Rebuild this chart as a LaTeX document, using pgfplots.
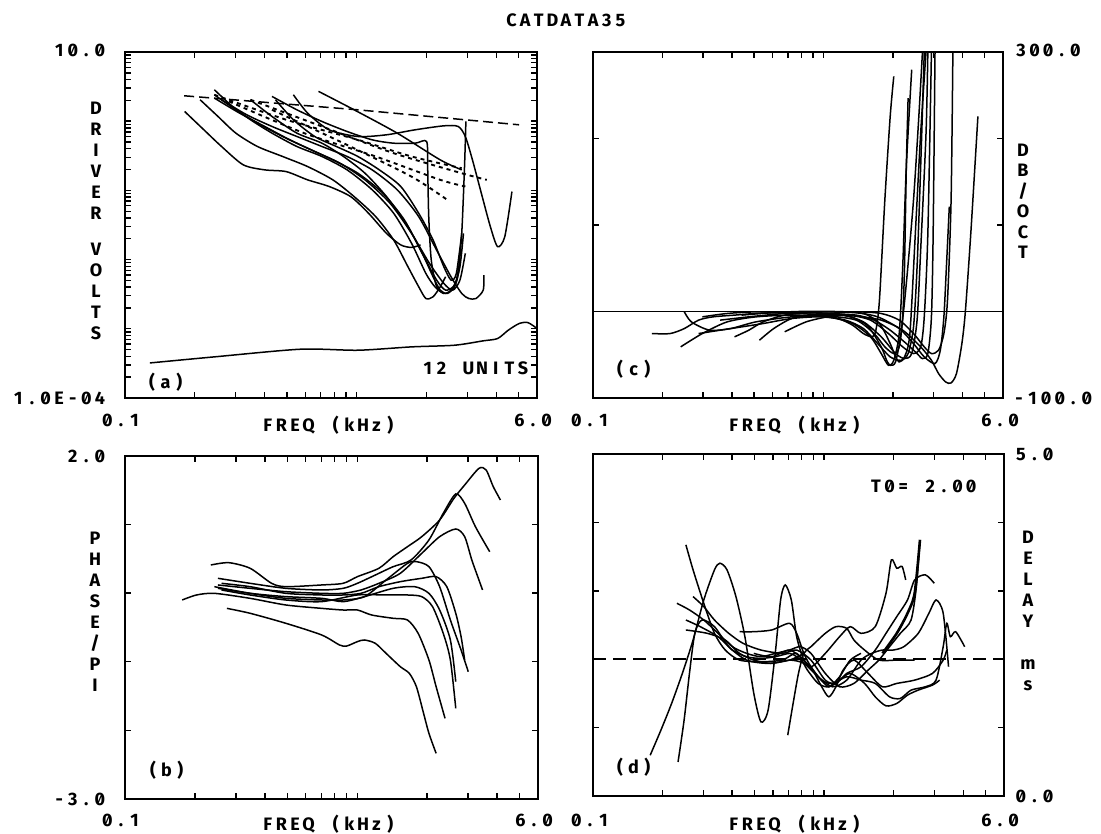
\documentclass[border=0pt]{standalone}
\usepackage{fontspec}
\setmainfont{Fira Sans}[Numbers=SlashedZero]
\usepackage{pgfplots}
\pgfplotsset{compat=1.18}
\newlength\cw \setlength\cw{13.6bp}
\makeatletter
\def\pl#1{\pl@#1\relax}
\def\pl@#1{\ifx#1\relax\else\makebox[\cw]{#1}\expandafter\pl@\fi}
\makeatother
\newcommand\fsz{\fontsize{18bp}{21bp}\selectfont\bfseries}
\pgfplotsset{
  myframe/.style={scale only axis, xmin=0.1, xmax=6,
    axis line style={line width=1.8bp},
    tick style={line width=1.4bp, black},
    major tick length=6bp, minor tick length=6bp, tick align=inside,
    xtick={0.1,1}, minor xtick={0.2,0.3,0.4,0.5,0.6,0.7,0.8,0.9,2,3,4,5},
    xticklabels={,,}, yticklabels={,,}},
  mycurve/.style={line width=1.5bp, black, smooth, tension=0.45},
}
\begin{document}
\begin{tikzpicture}
\path[use as bounding box] (0,0) rectangle (1101bp,834bp);
% ---------------- panel (a)
\begin{axis}[xmode=log, ymode=log, myframe, at={(125bp,436bp)}, anchor=south west, width=412bp, height=346bp,
  ymin=1e-4, ymax=10, ytick={1e-4,1e-3,0.01,0.1,1,10},
  minor ytick={2e-4,3e-4,4e-4,5e-4,6e-4,7e-4,8e-4,9e-4,2e-3,3e-3,4e-3,5e-3,6e-3,7e-3,8e-3,9e-3,0.02,0.03,0.04,0.05,0.06,0.07,0.08,0.09,0.2,0.3,0.4,0.5,0.6,0.7,0.8,0.9,2,3,4,5,6,7,8,9}]
\addplot[mycurve] coordinates {(0.128,0.000321) (0.243,0.000393) (0.572,0.000507) (1.012,0.000490) (1.725,0.000548) (2.645,0.000579) (3.516,0.000670) (4.055,0.000723) (4.51,0.000955) (5.02,0.00119) (5.48,0.00123) (6.0,0.00101)};
\addplot[mycurve] coordinates {(0.181,1.38) (0.219,0.751) (0.261,0.431) (0.324,0.234) (0.401,0.198) (0.496,0.187) (0.614,0.142) (0.760,0.114) (0.942,0.0813) (1.125,0.0467) (1.345,0.0239) (1.549,0.0163) (1.725,0.0150) (1.886,0.0163)};
\addplot[mycurve] coordinates {(0.211,2.04) (0.252,1.17) (0.301,0.672) (0.373,0.431) (0.479,0.309) (0.614,0.221) (0.789,0.142) (0.975,0.0813) (1.208,0.0418) (1.444,0.0192) (1.664,0.00789) (1.852,0.00405) (1.989,0.00274) (2.136,0.00290) (2.294,0.00405) (2.419,0.00565)};
\addplot[mycurve] coordinates {(0.243,2.85) (0.291,1.63) (0.348,1.05) (0.431,0.672) (0.552,0.431) (0.708,0.309) (0.909,0.198) (1.166,0.102) (1.444,0.0467) (1.725,0.0172) (1.989,0.00631) (2.175,0.00405) (2.377,0.00324) (2.553,0.00362) (2.692,0.00506) (2.790,0.00984)};
\addplot[mycurve] coordinates {(0.243,2.41) (0.301,1.46) (0.373,0.938) (0.479,0.601) (0.614,0.407) (0.789,0.276) (1.012,0.177) (1.297,0.0910) (1.606,0.0374) (1.919,0.0123) (2.213,0.00506) (2.419,0.00362) (2.645,0.00428) (2.790,0.00789) (2.890,0.0239)};
\addplot[mycurve] coordinates {(0.243,2.16) (0.312,1.31) (0.401,0.839) (0.514,0.538) (0.659,0.365) (0.847,0.247) (1.086,0.142) (1.393,0.0652) (1.725,0.0239) (2.061,0.00881) (2.377,0.00453) (2.598,0.00362) (2.790,0.00506) (2.943,0.0123)};
\addplot[mycurve] coordinates {(0.261,2.04) (0.335,1.24) (0.431,0.839) (0.552,0.601) (0.708,0.431) (0.909,0.309) (1.166,0.198) (1.496,0.102) (1.852,0.0418) (2.213,0.0137) (2.553,0.00565) (2.840,0.00324) (3.048,0.00274) (3.273,0.00274) (3.516,0.00362) (3.54,0.00597)};
\addplot[mycurve] coordinates {(0.446,2.04) (0.533,1.05) (0.659,0.601) (0.817,0.431) (1.012,0.309) (1.252,0.198) (1.549,0.114) (1.852,0.0467) (2.136,0.0192) (2.377,0.00789) (2.553,0.00506) (2.692,0.00631) (2.840,0.0239)};
\addplot[mycurve] coordinates {(0.533,2.41) (0.614,1.31) (0.760,0.751) (1.012,0.601) (1.345,0.636) (1.787,0.751) (2.377,0.857) (2.741,0.839) (2.943,0.601) (3.159,0.276) (3.451,0.0910) (3.775,0.0299) (4.055,0.0154) (4.355,0.0214) (4.677,0.0961)};
\addplot[mycurve] coordinates {(0.684,2.70) (0.975,1.46) (1.496,0.672) (2.294,0.276) (2.840,0.198)};
\addplot[mycurve] coordinates {(0.431,2.28) (0.552,1.46) (0.708,0.991) (0.909,0.710) (1.166,0.538) (1.444,0.481) (1.787,0.481) (2.003,0.509) (2.024,0.221) (2.046,0.0418) (2.098,0.00984) (2.213,0.00405) (2.377,0.00324)};
\addplot[mycurve] coordinates {(0.348,2.04) (0.431,1.17) (0.552,0.672) (0.708,0.481) (0.877,0.309) (1.086,0.177) (1.345,0.0813) (1.664,0.0299) (1.919,0.0123) (2.136,0.00565) (2.294,0.00362) (2.463,0.00324) (2.645,0.00405) (2.741,0.00631) (2.840,0.0239) (2.92,0.221) (2.96,0.991)};
\addplot[mycurve, line width=1.9bp, dash pattern=on 4bp off 4bp] coordinates {(0.243,2.41) (0.496,1.05) (1.012,0.538) (1.725,0.309) (2.840,0.209)};
\addplot[mycurve, line width=1.9bp, dash pattern=on 4bp off 4bp] coordinates {(0.281,1.93) (0.593,0.672) (1.208,0.309) (2.294,0.142) (2.943,0.114)};
\addplot[mycurve, line width=1.9bp, dash pattern=on 4bp off 4bp] coordinates {(0.348,2.04) (0.708,0.839) (1.444,0.345) (2.840,0.177) (3.643,0.142)};
\addplot[mycurve, line width=1.9bp, dash pattern=on 4bp off 4bp] coordinates {(0.431,1.46) (0.877,0.481) (1.725,0.158) (2.463,0.0728)};
\addplot[line width=1.5bp, black, dash pattern=on 10bp off 5bp] coordinates {(0.180,2.33) (1.012,1.46) (5.02,0.887)};
\end{axis}
% ---------------- panel (c)
\begin{axis}[xmode=log, myframe, at={(593bp,436bp)}, anchor=south west, width=410bp, height=346bp,
  ymin=-100, ymax=300, ytick={-100,0,100,200,300}]
\addplot[line width=1.5bp, black] coordinates {(0.1,0) (6,0)};
\addplot[mycurve] coordinates {(0.180,-25.5) (0.216,-25.5) (0.249,-19.7) (0.287,-10.0) (0.331,-6.2) (0.411,-4.2) (0.509,-2.3) (0.631,-1.5) (0.782,-2.3) (0.969,-4.2) (1.158,-8.1) (1.336,-15.8) (1.488,-25.5) (1.626,-29.3) (1.686,-21.6) (1.747,13.1) (1.844,129.0) (1.945,225.5) (2.016,271.8)};
\addplot[mycurve] coordinates {(0.240,-40.9) (0.298,-25.5) (0.382,-12.0) (0.509,-6.2) (0.728,-4.2) (1.040,-6.2) (1.336,-13.9) (1.598,-29.3) (1.778,-48.6) (1.911,-62.2) (2.016,-56.4) (2.128,-25.5) (2.204,51.7) (2.285,167.6) (2.411,279.5)};
\addplot[mycurve] coordinates {(0.249,-0.4) (0.267,-12.0) (0.320,-21.6) (0.396,-19.7) (0.509,-12.0) (0.728,-6.2) (1.040,-5.4) (1.385,-10.0) (1.656,-25.5) (1.844,-40.9) (2.016,-48.6) (2.128,-40.9) (2.204,-6.2) (2.244,51.7) (2.285,167.6) (2.326,246.7)};
\addplot[mycurve] coordinates {(0.287,-25.5) (0.356,-21.6) (0.441,-17.8) (0.547,-13.9) (0.728,-8.1) (0.969,-6.2) (1.244,-10.0) (1.488,-19.7) (1.717,-37.1) (1.945,-52.5) (2.166,-56.4) (2.326,-48.6) (2.455,-17.8) (2.544,51.7) (2.637,167.6) (2.733,300)};
\addplot[mycurve] coordinates {(0.527,-33.2) (0.608,-19.7) (0.728,-8.1) (0.902,-4.2) (1.200,-4.2) (1.488,-12.0) (1.778,-29.3) (2.052,-48.6) (2.244,-54.4) (2.411,-48.6) (2.544,-10.0) (2.637,71.0) (2.782,206.2) (2.833,300)};
\addplot[mycurve] coordinates {(0.678,-23.5) (0.840,-12.0) (1.040,-6.2) (1.289,-4.2) (1.598,-10.0) (1.911,-25.5) (2.204,-40.9) (2.455,-48.6) (2.637,-40.9) (2.733,-6.2) (2.833,90.3) (2.936,300)};
\addplot[mycurve] coordinates {(0.298,-6.2) (0.382,-2.3) (0.509,-0.4) (0.728,-0.8) (1.040,-2.3) (1.385,-4.2) (1.656,-10.0) (1.945,-21.6) (2.285,-37.1) (2.544,-48.6) (2.684,-54.4) (2.833,-48.6) (2.936,-6.2) (2.987,90.3) (3.043,300)};
\addplot[mycurve] coordinates {(0.356,-10.0) (0.474,-6.2) (0.678,-2.3) (1.004,-0.4) (1.385,-1.5) (1.717,-6.2) (2.128,-19.7) (2.455,-37.1) (2.733,-52.5) (3.043,-60.2) (3.208,-44.8) (3.325,-6.2) (3.41,51.7) (3.51,121.2)};
\addplot[mycurve] coordinates {(0.728,-6.2) (1.040,-4.2) (1.385,-5.4) (1.778,-10.0) (2.204,-21.6) (2.637,-40.9) (2.936,-56.4) (3.153,-71.8) (3.386,-81.5) (3.573,-82.6) (3.77,-71.8) (3.98,-37.1) (4.12,0) (4.35,90.3) (4.67,225.5)};
\addplot[mycurve] coordinates {(1.040,-2.3) (1.385,-0.4) (1.778,-2.3) (2.128,-10.0) (2.455,-25.5) (2.733,-40.9) (2.936,-48.6) (3.153,-44.8) (3.325,-25.5) (3.447,13.1) (3.573,129.0) (3.638,300)};
\addplot[mycurve] coordinates {(0.441,-4.2) (0.587,-1.5) (0.782,0) (1.117,0) (1.488,-2.3) (1.747,-13.9) (1.945,-37.1) (2.052,-52.5) (2.128,-58.3) (2.244,-52.5) (2.368,-25.5) (2.50,90.3) (2.637,206.2) (2.782,300)};
\addplot[mycurve] coordinates {(0.411,-29.3) (0.474,-21.6) (0.547,-12.0) (0.678,-4.2) (0.902,-1.5) (1.244,-4.2) (1.542,-15.8) (1.778,-40.9) (1.876,-56.4) (1.945,-62.2) (2.052,-58.3) (2.166,-25.5) (2.285,32.4) (2.455,129.0) (2.589,225.5) (2.684,300)};
\end{axis}
% ---------------- panel (b)
\begin{axis}[xmode=log, myframe, at={(125bp,35bp)}, anchor=south west, width=413bp, height=343bp,
  ymin=-3, ymax=2, ytick={-3,-2,-1,0,1,2}]
\addplot[mycurve] coordinates {(0.2746,-0.221) (0.3458,-0.293) (0.4929,-0.439) (0.7027,-0.609) (0.8387,-0.755) (0.9004,-0.770) (1.0014,-0.706) (1.075,-0.682) (1.196,-0.731) (1.330,-0.876) (1.532,-1.071) (1.675,-1.168) (1.797,-1.362) (1.930,-1.751) (2.035,-2.043) (2.185,-2.334)};
\addplot[mycurve] coordinates {(0.1763,-0.099) (0.2032,-0.026) (0.2426,-0.002) (0.3458,-0.075) (0.4929,-0.172) (0.7027,-0.221) (0.8694,-0.245) (1.0014,-0.245) (1.154,-0.318) (1.428,-0.366) (1.645,-0.391) (1.829,-0.585) (2.035,-0.974) (2.185,-1.362) (2.387,-1.824)};
\addplot[mycurve] coordinates {(0.2342,0.411) (0.2796,0.445) (0.3458,0.363) (0.4278,0.144) (0.4929,0.095) (0.7027,0.120) (0.8694,0.144) (1.0014,0.241) (1.239,0.363) (1.428,0.533) (1.645,0.678) (1.895,0.824) (2.263,1.067) (2.608,1.383) (2.900,1.577) (3.342,1.820) (3.588,1.796) (3.851,1.553) (4.134,1.359)};
\addplot[mycurve] coordinates {(0.2513,0.217) (0.3458,0.144) (0.4929,0.071) (0.7027,0.047) (0.8694,0.071) (1.0014,0.144) (1.196,0.265) (1.428,0.387) (1.704,0.484) (2.035,0.776) (2.345,1.164) (2.655,1.446) (2.900,1.310) (3.226,0.970) (3.717,0.605)};
\addplot[mycurve] coordinates {(0.2513,0.120) (0.3458,0.071) (0.4929,0.022) (0.7027,-0.002) (0.8694,-0.002) (1.038,0.047) (1.239,0.144) (1.532,0.290) (1.895,0.581) (2.263,0.824) (2.655,0.936) (2.900,0.824) (3.113,0.484) (3.342,0.192) (3.463,0.047)};
\addplot[mycurve] coordinates {(0.2426,0.095) (0.3458,-0.002) (0.4929,-0.075) (0.7027,-0.099) (0.8694,-0.099) (1.075,-0.050) (1.330,0.192) (1.645,0.435) (1.797,0.460) (2.035,0.387) (2.263,0.095) (2.517,-0.391) (2.799,-0.828) (3.005,-1.144)};
\addplot[mycurve] coordinates {(0.2513,0.071) (0.3458,-0.002) (0.4929,-0.050) (0.7027,-0.075) (0.8694,-0.123) (1.075,-0.050) (1.428,0.071) (1.766,0.095) (2.035,-0.002) (2.263,-0.245) (2.517,-0.682) (2.655,-1.290)};
\addplot[mycurve] coordinates {(0.2604,0.047) (0.3458,-0.026) (0.4929,-0.099) (0.7027,-0.123) (1.0014,-0.026) (1.330,-0.026) (1.645,-0.026) (1.895,-0.050) (2.109,-0.196) (2.345,-0.585) (2.517,-0.974) (2.655,-1.678)};
\addplot[mycurve] coordinates {(0.2604,0.144) (0.3458,0.095) (0.4929,-0.002) (0.7027,-0.026) (0.8694,-0.026) (1.038,-0.002) (1.239,0.095) (1.532,0.168) (1.895,0.217) (2.185,0.241) (2.429,0.095) (2.655,-0.293) (2.799,-0.634) (2.900,-0.974)};
\end{axis}
% ---------------- panel (d)
\begin{axis}[xmode=log, myframe, at={(593bp,38bp)}, anchor=south west, width=411bp, height=342bp,
  ymin=0, ymax=5, ytick={0,1,2,3,4,5}]
\addplot[line width=1.5bp, black, dash pattern=on 13bp off 7bp] coordinates {(0.1,2) (6,2)};
\addplot[mycurve] coordinates {(0.1768,0.596) (0.1967,0.962) (0.2188,1.353) (0.2435,1.792) (0.2710,2.280) (0.3015,2.866) (0.3354,3.306) (0.3538,3.403) (0.3800,3.306) (0.4153,2.915) (0.4541,2.329) (0.4963,1.499) (0.5329,1.084) (0.5722,1.255) (0.6143,2.085) (0.6482,2.866) (0.6787,3.086) (0.7211,2.866) (0.7606,2.329) (0.8169,1.987) (0.8770,1.890) (0.9759,1.597) (1.048,1.450) (1.125,1.597) (1.208,1.841) (1.345,1.987) (1.550,1.792) (1.788,1.597) (2.061,1.646) (2.463,1.694) (2.942,1.792) (3.274,1.987) (3.393,2.134)};
\addplot[mycurve] coordinates {(0.2333,0.498) (0.2478,1.108) (0.2614,1.792) (0.2758,2.378) (0.2962,2.573) (0.3354,2.476) (0.3868,2.183) (0.4622,1.987) (0.5722,1.939) (0.7084,1.987) (0.8169,2.085)};
\addplot[mycurve] coordinates {(0.2523,3.672) (0.2710,3.306) (0.3015,2.817) (0.3354,2.378) (0.3733,2.134) (0.4304,1.987) (0.5329,1.963) (0.6597,1.987) (0.7606,2.085) (0.8465,1.841) (0.9419,1.646) (1.048,1.597) (1.166,1.743) (1.297,1.987) (1.444,2.085)};
\addplot[mycurve] coordinates {(0.2308,2.817) (0.2614,2.720) (0.3015,2.573) (0.3475,2.378) (0.4008,2.183) (0.4622,2.085) (0.5329,2.036) (0.6143,2.085) (0.7084,2.134) (0.7884,2.183) (0.8770,2.085) (1.0113,1.792) (1.166,1.597) (1.345,1.646) (1.550,1.841) (1.725,1.987) (1.919,2.183) (2.136,2.378) (2.377,2.573) (2.507,3.062) (2.598,3.745)};
\addplot[mycurve, line width=2.6bp] coordinates {(1.788,2.085) (2.061,2.378) (2.294,2.671) (2.463,2.964) (2.598,3.745)};
\addplot[mycurve] coordinates {(0.2710,2.915) (0.3015,2.769) (0.3354,2.573) (0.3868,2.378) (0.4459,2.232) (0.5329,2.134) (0.6597,2.085) (0.7606,2.134) (0.8770,1.987) (1.0113,1.694) (1.125,1.646) (1.252,1.792) (1.444,1.890) (1.664,2.134) (1.852,2.378) (2.061,2.622) (2.294,2.866) (2.463,3.159) (2.741,3.233) (2.995,3.110)};
\addplot[mycurve] coordinates {(0.2523,2.573) (0.2910,2.476) (0.3475,2.329) (0.4008,2.134) (0.4622,2.036) (0.5329,2.012) (0.6143,2.036) (0.7084,2.085) (0.7606,2.036) (0.8770,1.890) (1.0113,2.085) (1.166,2.329) (1.297,2.476) (1.444,2.378) (1.664,2.476) (1.852,2.964) (1.954,3.452) (2.061,3.330) (2.174,3.355) (2.253,3.159)};
\addplot[mycurve] coordinates {(0.2523,2.427) (0.3124,2.378) (0.3733,2.280) (0.4304,2.085) (0.4963,1.987) (0.5929,1.939) (0.7084,1.987) (0.8169,1.939) (0.9419,1.743) (1.086,1.597) (1.252,1.694) (1.444,1.987) (1.606,2.085) (1.788,2.134) (1.989,2.134) (2.213,2.183) (2.553,2.378) (2.839,2.671) (3.049,2.866) (3.274,2.671) (3.453,1.890)};
\addplot[mycurve] coordinates {(0.4304,2.402) (0.4963,2.402) (0.5929,2.427) (0.7084,2.525) (0.7606,2.378) (0.8169,2.085) (0.8770,1.890) (0.9759,1.694) (1.086,1.646) (1.252,1.743) (1.444,1.694) (1.664,1.646) (1.919,1.450) (2.136,1.426) (2.377,1.548) (2.741,1.597) (3.049,1.694) (3.274,2.183) (3.393,2.525) (3.516,2.329) (3.707,2.402) (4.054,2.183)};
\addplot[mycurve] coordinates {(0.4963,2.085) (0.5929,2.036) (0.7084,2.134) (0.8169,1.987) (0.9419,1.743) (1.048,1.597) (1.166,1.694) (1.297,1.792) (1.496,1.646) (1.664,1.450) (1.852,1.318) (2.061,1.353) (2.294,1.475) (2.553,1.548) (2.942,1.621) (3.159,1.694)};
\addplot[mycurve] coordinates {(0.6959,0.889) (0.7341,1.353) (0.7745,1.792) (0.8169,2.085) (0.8770,2.183) (1.0113,2.378) (1.125,2.476) (1.252,2.451) (1.345,2.280) (1.496,2.134) (1.725,1.987) (2.061,1.987) (2.463,1.987)};
\end{axis}
% ---------------- texts
\begin{scope}[every node/.style={font=\fsz, inner sep=0pt}]
\node at (566bp,814bp) {\pl{CATDATA35}};
\node[anchor=east] at (107bp,784bp) {\pl{10.0}};
\node[anchor=east] at (107bp,436bp) {\pl{1.0E-04}};
\node at (121bp,414bp) {\pl{0.1}};
\node at (533bp,414bp) {\pl{6.0}};
\node at (329bp,409bp) {\pl{FREQ~(kHz)}};
\node at (590bp,414bp) {\pl{0.1}};
\node at (1000bp,414bp) {\pl{6.0}};
\node at (795bp,409bp) {\pl{FREQ~(kHz)}};
\node[anchor=west] at (1014bp,784bp) {\pl{300.0}};
\node[anchor=west] at (1012bp,436bp) {\pl{-100.0}};
\node[anchor=east] at (107bp,378bp) {\pl{2.0}};
\node[anchor=east] at (107bp,35bp) {\pl{-3.0}};
\node[anchor=west] at (1014bp,380bp) {\pl{5.0}};
\node[anchor=west] at (1014bp,38bp) {\pl{0.0}};
\node at (121bp,14bp) {\pl{0.1}};
\node at (534bp,14bp) {\pl{6.0}};
\node at (329bp,10bp) {\pl{FREQ~(kHz)}};
\node at (590bp,14bp) {\pl{0.1}};
\node at (1000bp,14bp) {\pl{6.0}};
\node at (795bp,10bp) {\pl{FREQ~(kHz)}};
\node[anchor=east] at (530bp,466bp) {\pl{12~UNITS}};
\node[anchor=west] at (145bp,452bp) {\pl{(a)}};
\node[anchor=west] at (613bp,465bp) {\pl{(c)}};
\node[anchor=west] at (146bp,64bp) {\pl{(b)}};
\node[anchor=west] at (613bp,67bp) {\pl{(d)}};
\node[anchor=west] at (869bp,348bp) {\pl{T0=~2.00}};
\foreach \yy/\l in {726/D,705/R,684/I,663/V,642/E,621/R,585/V,564/O,543/L,522/T,501/S}
  \node at (96bp,\yy bp) {\l};
\foreach \yy/\l in {296/P,275/H,254/A,233/S,212/E,170/P,149/I}
  \node at (95bp,\yy bp) {\l};
\node at (95bp,191bp) {/};
\foreach \yy/\l in {684/D,663.5/B,622.5/O,602/C,581.5/T}
  \node at (1023bp,\yy bp) {\l};
\node at (1023bp,643bp) {/};
\foreach \yy/\l in {297/D,276/E,255/L,234/A,213/Y,169/m,148/s}
  \node at (1028bp,\yy bp) {\l};
\end{scope}
\end{tikzpicture}
\end{document}
